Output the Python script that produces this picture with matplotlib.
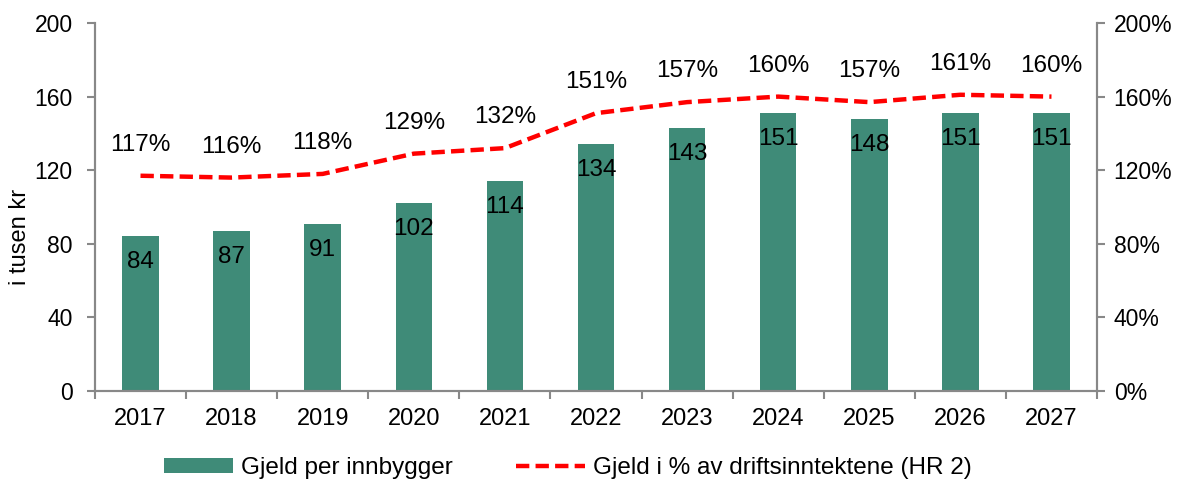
import matplotlib
matplotlib.use("Agg")
import matplotlib.pyplot as plt
from matplotlib.ticker import FixedLocator, FuncFormatter

# data
years = ["2017", "2018", "2019", "2020", "2021", "2022", "2023", "2024", "2025", "2026", "2027"]
gjeld_per_innbygger = [84, 87, 91, 102, 114, 134, 143, 151, 148, 151, 151]
gjeld_pst = [117, 116, 118, 129, 132, 151, 157, 160, 157, 161, 160]

plt.rcParams["font.family"] = ["Liberation Sans", "DejaVu Sans"]
plt.rcParams["font.size"] = 17

bar_col = "#3F8B78"
line_col = "#FF0000"
spine_col = "#888888"

fig = plt.figure(figsize=(11.81, 4.84), dpi=100)
ax = fig.add_axes([0.0804, 0.192, 0.8485, 0.7605])
ax2 = ax.twinx()

x = list(range(len(years)))
bars = ax.bar(x, gjeld_per_innbygger, width=0.4, color=bar_col, zorder=2,
              label="Gjeld per innbygger")
for xi, v in zip(x, gjeld_per_innbygger):
    ax.annotate(str(v), (xi, v), xytext=(0, -26), textcoords="offset pixels",
                ha="center", va="center", fontsize=17.5)

line, = ax2.plot(x, gjeld_pst, color=line_col, lw=3.2, ls=(0, (3, 1.4)),
                 label="Gjeld i % av driftsinntektene (HR 2)", zorder=3)
for xi, v in zip(x, gjeld_pst):
    ax2.annotate(f"{v}%", (xi, v), xytext=(0, 31), textcoords="offset pixels",
                 ha="center", va="center", fontsize=17.5)

ax.set_xlim(-0.5, len(years) - 0.5)
ax.set_ylim(0, 200)
ax2.set_ylim(0, 200)
ax.set_yticks([0, 40, 80, 120, 160, 200])
ax2.set_yticks([0, 40, 80, 120, 160, 200])
ax2.yaxis.set_major_formatter(FuncFormatter(lambda v, p: f"{int(v)}%"))

ax.set_xticks(x)
ax.set_xticklabels(years)
ax.xaxis.set_minor_locator(FixedLocator([i - 0.5 for i in range(len(years) + 1)]))
ax.tick_params(axis="x", which="major", length=0, pad=12)
ax.tick_params(axis="x", which="minor", length=6, color=spine_col, width=1.5, direction="out")
ax.tick_params(axis="y", length=6, color=spine_col, width=1.5, pad=10, labelsize=16.5)
ax2.tick_params(axis="y", length=6, color=spine_col, width=1.5, pad=6, labelsize=16.5)

for a in (ax, ax2):
    a.spines["top"].set_visible(False)
    for s in ("left", "right", "bottom"):
        a.spines[s].set_color(spine_col)
        a.spines[s].set_linewidth(1.5)

ax.set_ylabel("i tusen kr", fontsize=17)
ax.yaxis.set_label_coords(-0.064, 0.42)

fig.legend([bars, line], ["Gjeld per innbygger", "Gjeld i % av driftsinntektene (HR 2)"],
           loc="center", bbox_to_anchor=(0.481, 0.033), ncol=2, frameon=False,
           handlelength=2.85, handleheight=0.53, handletextpad=0.32,
           columnspacing=2.6, fontsize=17.5, borderpad=0, borderaxespad=0)

fig.savefig("out.png", dpi=100)
